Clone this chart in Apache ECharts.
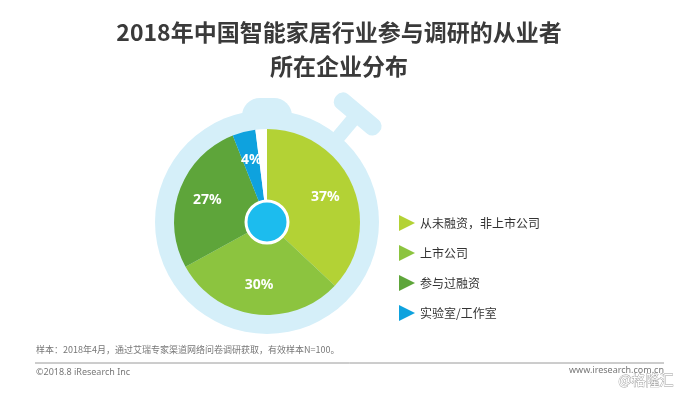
<!DOCTYPE html>
<html><head><meta charset="utf-8">
<script src="https://cdn.jsdelivr.net/npm/echarts@6/dist/echarts.min.js"></script>
<style>html,body{margin:0;padding:0;background:#fff}#c{width:678px;height:394px}</style>
</head><body><div id="c"></div>
<script>
const categories = ['从未融资，非上市公司', '上市公司', '参与过融资', '实验室/工作室'];
const values = [37, 30, 27, 4];
const gapValue = [2];
const colors = ['#b3d235', '#8cc43f', '#5ea53a', '#0ea2de'];
const titleLines = ['2018年中国智能家居行业参与调研的从业者', '所在企业分布'];
const noteText = '样本：2018年4月，通过艾瑞专家渠道网络问卷调研获取，有效样本N=100。';

const CX = 267, CY = 222;
const chart = echarts.init(document.getElementById('c'));
const pieData = categories.map((n, i) => ({ name: n, value: values[i], itemStyle: { color: colors[i] } }))
  .concat([{ name: '', value: gapValue[0], itemStyle: { color: '#ffffff' }, label: { show: false }, emphasis: { disabled: true } }]);
const ringColor = '#d5eff9';
chart.setOption({
  animation: false,
  title: {
    text: titleLines.join('\n'), left: 'center', top: 10,
    textStyle: { fontSize: 23, fontWeight: 'bold', color: '#3a3a3a', lineHeight: 34, fontFamily: 'Noto Sans CJK SC' }
  },
  legend: {
    orient: 'vertical', left: 394, top: 210, itemWidth: 16, itemHeight: 16, itemGap: 14,
    icon: 'path://M0,0 L1,0.5 L0,1 Z',
    data: categories,
    textStyle: { fontSize: 12, color: '#333', fontFamily: 'Noto Sans CJK SC' }
  },
  graphic: [
    { type: 'rect', shape: { x: CX - 25, y: 98, width: 50, height: 32, r: [18, 18, 4, 4] }, style: { fill: ringColor }, z: 0 },
    { type: 'group', x: CX, y: CY, rotation: -40 * Math.PI / 180, z: 0, children: [
      { type: 'rect', shape: { x: -7, y: -138, width: 14, height: 30 }, style: { fill: ringColor } },
      { type: 'rect', shape: { x: -28, y: -150, width: 56, height: 18, r: 8 }, style: { fill: ringColor } }
    ]},
    { type: 'text', left: 36, top: 345, style: { text: noteText, fontSize: 9, fill: '#777', fontFamily: 'Noto Sans CJK SC' } },
    { type: 'line', shape: { x1: 35, y1: 363, x2: 664, y2: 363 }, style: { stroke: '#9a9a9a', lineWidth: 1 } },
    { type: 'text', left: 36, top: 368, style: { text: '©2018.8 iResearch Inc', fontSize: 9, fill: '#777', fontFamily: 'Noto Sans' } },
    { type: 'text', right: 14, top: 366, style: { text: 'www.iresearch.com.cn', fontSize: 9, fill: '#777', fontFamily: 'Noto Sans' } },
    { type: 'text', right: 4, top: 372, style: { text: '@格隆汇', fontSize: 14, fill: '#ffffff', stroke: '#9a9a9a', lineWidth: 0.8, fontFamily: 'Noto Sans CJK SC' } }
  ],
  series: [
    { type: 'pie', silent: true, center: [CX, CY], radius: [0, 112], label: { show: false }, z: 1,
      data: [{ value: 1, itemStyle: { color: ringColor } }] },
    { type: 'pie', center: [CX, CY], radius: [0, 93], startAngle: 90, clockwise: true, z: 2,
      label: { show: false }, labelLine: { show: false }, data: pieData },
    { type: 'pie', center: [CX, CY], radius: [28, 93], startAngle: 90, clockwise: true, z: 3, silent: true,
      itemStyle: { color: 'transparent' }, legendHoverLink: false,
      label: { show: true, position: 'inside', formatter: '{c}%', color: '#fff', fontSize: 14, fontWeight: 'bold', fontFamily: 'Noto Sans' },
      data: pieData.map(d => ({ name: d.name, value: d.value, label: d.label, itemStyle: { color: 'transparent' } })) },
    { type: 'pie', silent: true, center: [CX, CY], radius: [0, 21], label: { show: false }, z: 4,
      data: [{ value: 1, itemStyle: { color: '#1cbcee', borderColor: '#fff', borderWidth: 3 } }] }
  ]
});
</script></body></html>
